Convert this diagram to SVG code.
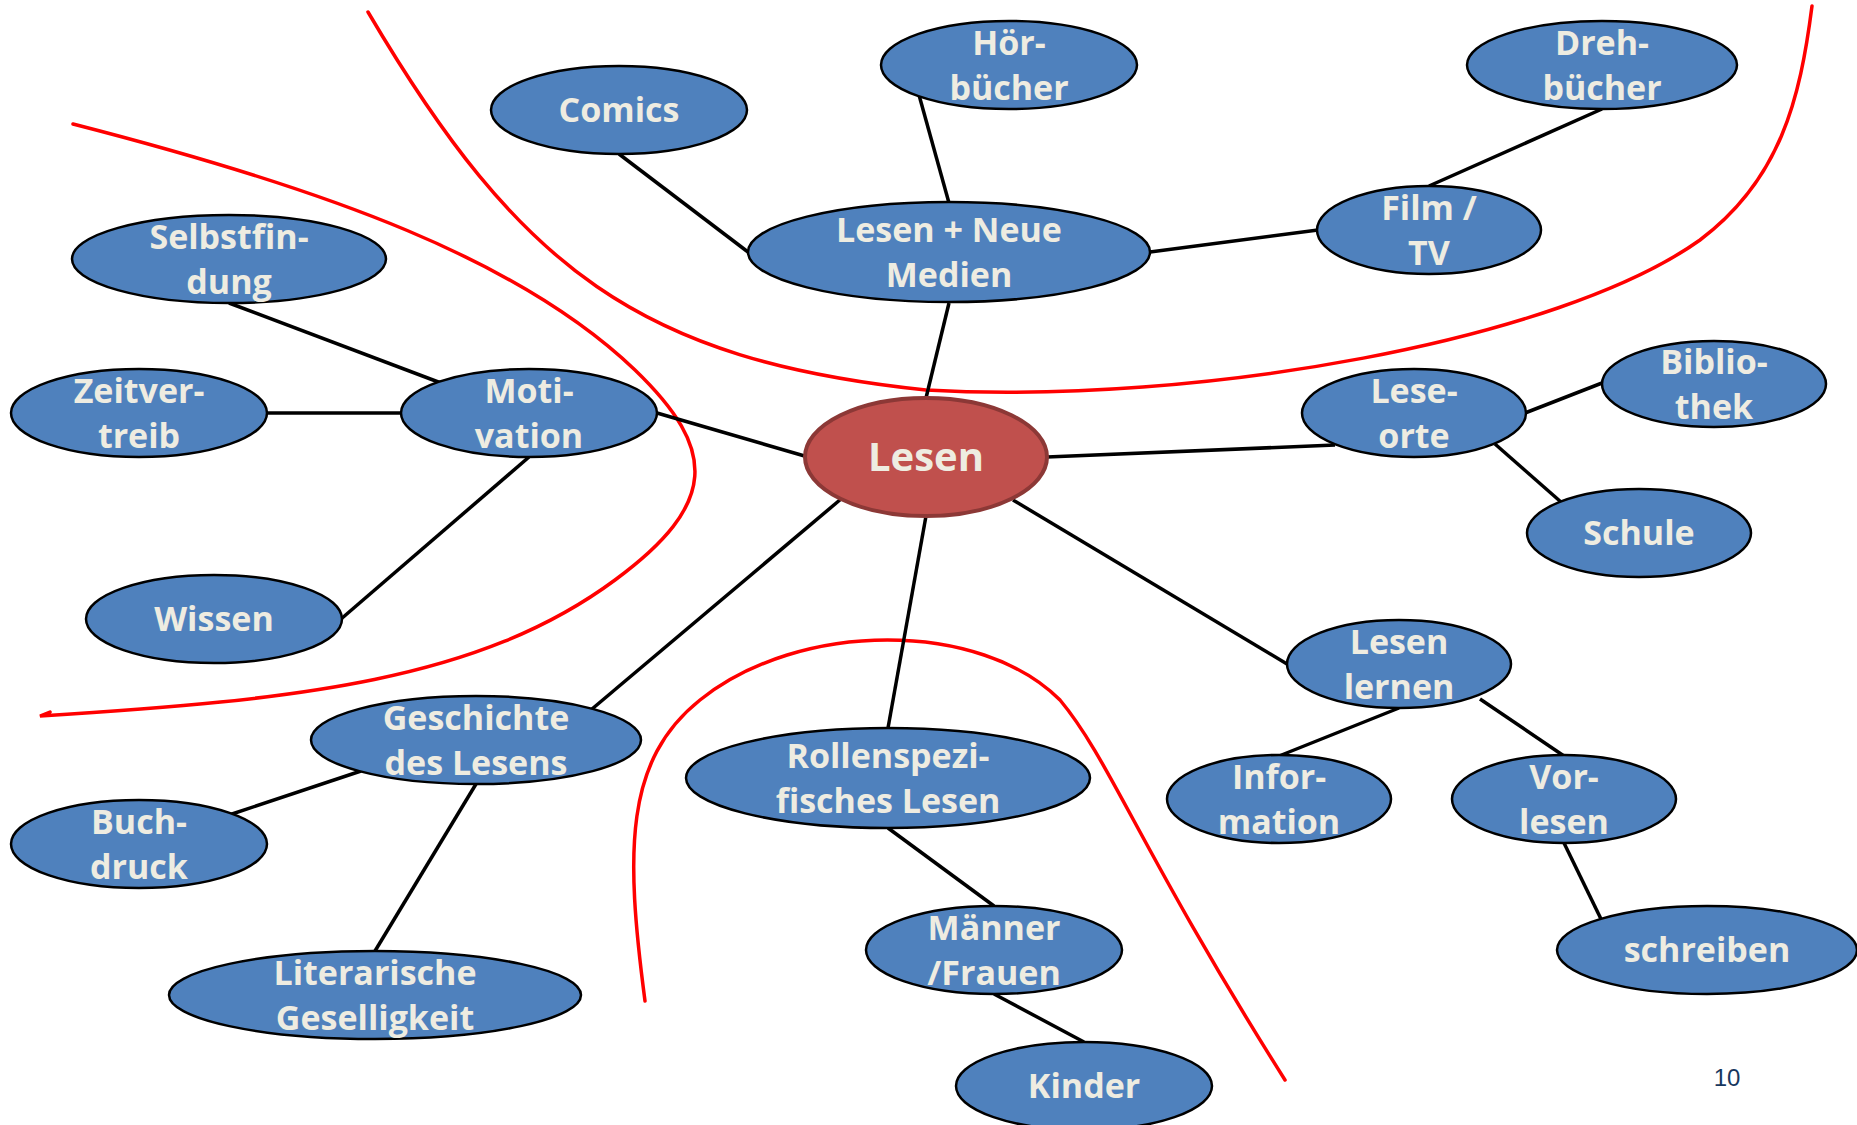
<svg xmlns="http://www.w3.org/2000/svg" width="1857" height="1125" viewBox="0 0 1857 1125">
<style>
.n ellipse{fill:#4F81BD;stroke:#000;stroke-width:2.5}
.n text{fill:#EEECE1;font-family:"Open Sans","DejaVu Sans",sans-serif;font-weight:700;font-size:34px;text-anchor:middle}
#lesen ellipse{fill:#C0504D;stroke:#8C3836;stroke-width:4}
#lesen text{font-size:40px}
.c line{stroke:#000;stroke-width:3.5}
.r path{fill:none;stroke:#FF0000;stroke-width:3.5;stroke-linecap:round}
</style>
<rect width="1857" height="1125" fill="#fff"/>
<g class="r">
<path d="M 368 12 C 520 270, 640 360, 926 390 C 1200 405, 1560 340, 1700 240 C 1780 180, 1800 100, 1812 6"/>
<path d="M 73 124 C 330 190, 520 260, 635 370 C 718 450, 718 504, 615 580 C 480 680, 300 700, 40 716 L 50 712"/>
<path d="M 645 1001 C 625 850, 625 760, 700 700 C 800 620, 980 620, 1060 700 C 1110 760, 1140 850, 1285 1080"/>
</g>
<g class="c">
<line x1="619" y1="154" x2="748" y2="252"/>
<line x1="919" y1="95" x2="949" y2="203"/>
<line x1="1602" y1="109" x2="1429" y2="186"/>
<line x1="1150" y1="252" x2="1318" y2="230"/>
<line x1="949" y1="303" x2="926" y2="398"/>
<line x1="229" y1="303" x2="441" y2="383"/>
<line x1="266" y1="413" x2="401" y2="413"/>
<line x1="341" y1="619" x2="529" y2="457"/>
<line x1="657" y1="413" x2="808" y2="457"/>
<line x1="1047" y1="457" x2="1335" y2="445"/>
<line x1="1525" y1="413" x2="1602" y2="383"/>
<line x1="1495" y1="444" x2="1561" y2="502"/>
<line x1="1013" y1="500" x2="1287" y2="664"/>
<line x1="1399" y1="708" x2="1279" y2="756"/>
<line x1="1480" y1="699" x2="1564" y2="756"/>
<line x1="1564" y1="843" x2="1601" y2="919"/>
<line x1="841" y1="499" x2="592" y2="709"/>
<line x1="361" y1="771" x2="229" y2="815"/>
<line x1="476" y1="784" x2="375" y2="951"/>
<line x1="926" y1="516" x2="888" y2="728"/>
<line x1="888" y1="828" x2="994" y2="906"/>
<line x1="994" y1="994" x2="1084" y2="1042"/>
</g>
<g id="lesen" class="n"><ellipse cx="926" cy="457" rx="121" ry="59"/><text x="926" y="471">Lesen</text></g>
<g id="lnm" class="n"><ellipse cx="949" cy="252" rx="201" ry="50"/><text x="949" y="242">Lesen + Neue</text><text x="949" y="287">Medien</text></g>
<g id="comics" class="n"><ellipse cx="619" cy="110" rx="128" ry="44"/><text x="619" y="122">Comics</text></g>
<g id="hoer" class="n"><ellipse cx="1009" cy="65" rx="128" ry="44"/><text x="1009" y="55">Hör-</text><text x="1009" y="100">bücher</text></g>
<g id="dreh" class="n"><ellipse cx="1602" cy="65" rx="135" ry="44"/><text x="1602" y="55">Dreh-</text><text x="1602" y="100">bücher</text></g>
<g id="film" class="n"><ellipse cx="1429" cy="230" rx="112" ry="44"/><text x="1429" y="220">Film /</text><text x="1429" y="265">TV</text></g>
<g id="selbst" class="n"><ellipse cx="229" cy="259" rx="157" ry="44"/><text x="229" y="249">Selbstfin-</text><text x="229" y="294">dung</text></g>
<g id="zeit" class="n"><ellipse cx="139" cy="413" rx="128" ry="44"/><text x="139" y="403">Zeitver-</text><text x="139" y="448">treib</text></g>
<g id="moti" class="n"><ellipse cx="529" cy="413" rx="128" ry="44"/><text x="529" y="403">Moti-</text><text x="529" y="448">vation</text></g>
<g id="wissen" class="n"><ellipse cx="214" cy="619" rx="128" ry="44"/><text x="214" y="631">Wissen</text></g>
<g id="leseorte" class="n"><ellipse cx="1414" cy="413" rx="112" ry="44"/><text x="1414" y="403">Lese-</text><text x="1414" y="448">orte</text></g>
<g id="biblio" class="n"><ellipse cx="1714" cy="384" rx="112" ry="43"/><text x="1714" y="374">Biblio-</text><text x="1714" y="419">thek</text></g>
<g id="schule" class="n"><ellipse cx="1639" cy="533" rx="112" ry="44"/><text x="1639" y="545">Schule</text></g>
<g id="lernen" class="n"><ellipse cx="1399" cy="664" rx="112" ry="44"/><text x="1399" y="654">Lesen</text><text x="1399" y="699">lernen</text></g>
<g id="info" class="n"><ellipse cx="1279" cy="799" rx="112" ry="44"/><text x="1279" y="789">Infor-</text><text x="1279" y="834">mation</text></g>
<g id="vor" class="n"><ellipse cx="1564" cy="799" rx="112" ry="44"/><text x="1564" y="789">Vor-</text><text x="1564" y="834">lesen</text></g>
<g id="schreiben" class="n"><ellipse cx="1707" cy="950" rx="150" ry="44"/><text x="1707" y="962">schreiben</text></g>
<g id="gesch" class="n"><ellipse cx="476" cy="740" rx="165" ry="44"/><text x="476" y="730">Geschichte</text><text x="476" y="775">des Lesens</text></g>
<g id="buch" class="n"><ellipse cx="139" cy="844" rx="128" ry="44"/><text x="139" y="834">Buch-</text><text x="139" y="879">druck</text></g>
<g id="lit" class="n"><ellipse cx="375" cy="995" rx="206" ry="44"/><text x="375" y="985">Literarische</text><text x="375" y="1030">Geselligkeit</text></g>
<g id="rollen" class="n"><ellipse cx="888" cy="778" rx="202" ry="50"/><text x="888" y="768">Rollenspezi-</text><text x="888" y="813">fisches Lesen</text></g>
<g id="maenner" class="n"><ellipse cx="994" cy="950" rx="128" ry="44"/><text x="994" y="940">Männer</text><text x="994" y="985">/Frauen</text></g>
<g id="kinder" class="n"><ellipse cx="1084" cy="1086" rx="128" ry="44"/><text x="1084" y="1098">Kinder</text></g>
<text x="1727" y="1086" font-family="'Liberation Sans',sans-serif" font-size="24" fill="#17375E" text-anchor="middle">10</text>
</svg>
